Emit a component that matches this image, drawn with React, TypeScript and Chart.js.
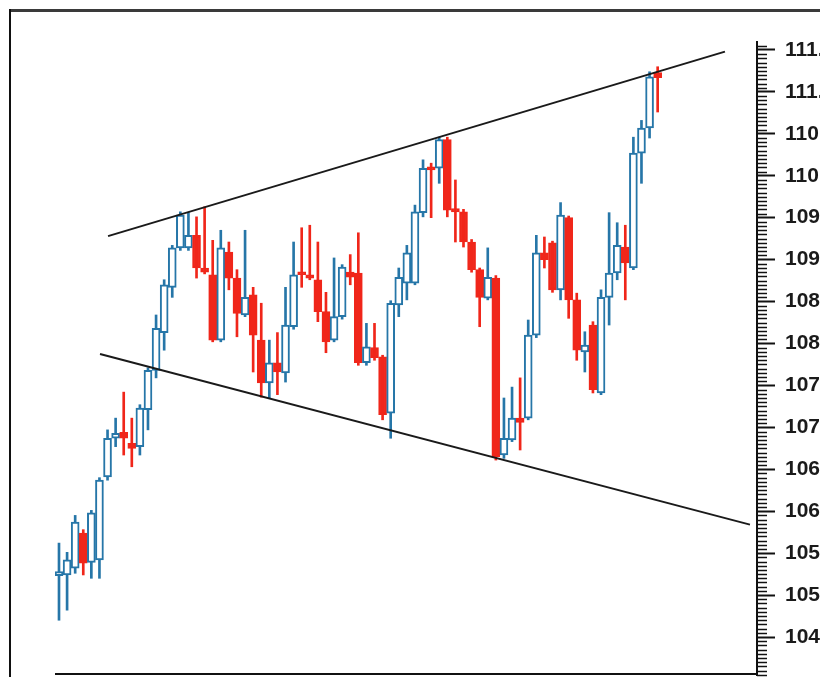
import React, { useEffect, useRef } from "react";
import { Chart, registerables } from "chart.js";

Chart.register(...registerables);

// OHLC values of each session, left to right
const opens = [
  105.23, 105.24, 105.32, 105.74, 105.39, 105.42, 106.41, 106.87, 106.94, 106.81,
  106.77, 107.21, 107.68, 108.13, 108.67, 109.14, 109.14, 109.29, 108.9, 108.82,
  108.04, 109.09, 108.78, 108.34, 108.58, 108.04, 107.53, 107.77, 107.65, 108.2,
  108.85, 108.82, 108.76, 108.38, 108.04, 108.32, 108.85, 108.84, 107.77, 107.95,
  107.84, 107.17, 108.46, 108.72, 108.72, 109.56, 110.1, 110.09, 110.43, 109.61,
  109.57, 109.21, 108.88, 108.54, 108.78, 106.67, 106.85, 107.11, 107.11, 108.1,
  109.08, 109.2, 108.64, 109.5, 108.52, 107.9, 108.22, 107.41, 108.55, 108.84,
  109.15, 108.9, 110.27, 110.57, 111.23,
];
const highs = [
  105.62, 105.51, 105.95, 105.78, 106.01, 106.4, 106.97, 107.11, 107.42, 107.11,
  107.27, 107.71, 108.34, 108.76, 109.17, 109.57, 109.56, 109.51, 109.63, 109.23,
  109.35, 109.21, 108.88, 109.35, 108.67, 108.48, 108.04, 108.13, 108.67, 109.21,
  109.38, 109.41, 109.21, 108.61, 109.02, 108.94, 109.06, 109.32, 108.24, 108.24,
  107.86, 108.51, 108.9, 109.17, 109.65, 110.19, 110.15, 110.46, 110.46, 109.95,
  109.6, 109.24, 108.9, 109.14, 108.81, 107.35, 107.48, 107.59, 108.28, 109.29,
  109.27, 109.22, 109.68, 109.52, 108.6, 108.14, 108.26, 108.64, 109.56, 109.44,
  109.41, 110.46, 110.66, 111.24, 111.3,
];
const lows = [
  104.7, 104.82, 105.26, 105.24, 105.2, 105.2, 106.37, 106.77, 106.67, 106.53,
  106.67, 106.97, 107.59, 107.92, 108.55, 109.11, 109.11, 108.78, 108.83, 108.02,
  108.02, 108.64, 108.08, 108.32, 107.66, 107.36, 107.35, 107.39, 107.54, 108.17,
  108.67, 108.76, 108.26, 107.89, 108.02, 108.29, 108.7, 107.74, 107.74, 107.8,
  107.09, 106.87, 108.32, 108.52, 108.7, 109.51, 109.5, 109.91, 109.51, 109.21,
  109.15, 108.85, 108.2, 108.52, 106.61, 106.63, 106.83, 106.73, 107.09, 108.07,
  108.9, 108.61, 108.52, 108.3, 107.8, 107.66, 107.41, 107.39, 108.22, 108.76,
  108.52, 108.88, 109.91, 110.45, 110.76,
];
const closes = [
  105.28, 105.42, 105.87, 105.38, 105.98, 106.37, 106.87, 106.93, 106.87, 106.75,
  107.23, 107.68, 108.18, 108.7, 109.14, 109.53, 109.29, 108.9, 108.85, 108.04,
  109.14, 108.78, 108.36, 108.55, 108.1, 107.53, 107.77, 107.66, 108.22, 108.82,
  108.82, 108.78, 108.38, 108.02, 108.32, 108.91, 108.79, 107.77, 107.96, 107.83,
  107.15, 108.48, 108.79, 109.08, 109.57, 110.09, 110.07, 110.43, 109.59, 109.57,
  109.21, 108.88, 108.55, 108.79, 106.65, 106.87, 107.11, 107.06, 108.1, 109.08,
  109.0, 108.64, 109.53, 108.52, 107.92, 107.98, 107.45, 108.55, 108.84, 109.17,
  108.96, 110.27, 110.57, 111.18, 111.17,
];

// trendlines (x = session index)
const upperTrend = [
  { x: 6.06, y: 109.28 },
  { x: 82.32, y: 111.48 },
];
const lowerTrend = [
  { x: 5.07, y: 107.875 },
  { x: 85.41, y: 105.84 },
];

// price axis
const yTickValues = [
  104.5, 105.0, 105.5, 106.0, 106.5, 107.0, 107.5, 108.0, 108.5, 109.0, 109.5, 110.0,
  110.5, 111.0, 111.5,
];
const Y_MIN = 104.047;
const Y_MAX = 111.595;
const X_MIN = -0.494;
const X_MAX = 86.28;

const BLUE = "#2676a8";
const RED = "#f0261a";

export default function App() {
  const ref = useRef<HTMLCanvasElement>(null);

  useEffect(() => {
    const canvas = ref.current;
    if (!canvas) return;
    const up = closes.map((c, i) => c >= opens[i]);
    const bodies = opens.map((o, i) => ({ x: i, y: [o, closes[i]] }));
    const wicks = lows.map((l, i) => ({ x: i, y: [l, highs[i]] }));

    const framePlugin = {
      id: "frame",
      afterDraw(chart: any) {
        const { ctx, chartArea } = chart;
        const ys = chart.scales.y;
        ctx.save();
        // bottom axis line
        ctx.strokeStyle = "#111";
        ctx.lineWidth = 2;
        ctx.beginPath();
        ctx.moveTo(chartArea.left, chartArea.bottom - 1);
        ctx.lineTo(chartArea.right, chartArea.bottom - 1);
        ctx.stroke();
        // minor ticks every 0.05
        ctx.lineWidth = 1.5;
        const k0 = Math.ceil(Y_MIN / 0.05 - 1e-6);
        const k1 = Math.floor(Y_MAX / 0.05 + 1e-6);
        for (let k = k0; k <= k1; k++) {
          if (k % 10 === 0) continue;
          const y = Math.round(ys.getPixelForValue(k * 0.05)) + 0.5;
          ctx.beginPath();
          ctx.moveTo(ys.left, y);
          ctx.lineTo(ys.left + 10, y);
          ctx.stroke();
        }
        // outer frame
        ctx.strokeStyle = "#3a3a3a";
        ctx.lineWidth = 3;
        ctx.beginPath();
        ctx.moveTo(9, 10.5);
        ctx.lineTo(820, 10.5);
        ctx.stroke();
        ctx.strokeStyle = "#111";
        ctx.lineWidth = 2;
        ctx.beginPath();
        ctx.moveTo(10, 9);
        ctx.lineTo(10, 677);
        ctx.stroke();
        ctx.restore();
      },
    };

    const chart = new Chart(canvas, {
      type: "bar",
      data: {
        datasets: [
          {
            type: "line",
            data: upperTrend,
            borderColor: "#1a1a1a",
            borderWidth: 2,
            pointRadius: 0,
            tension: 0,
          } as any,
          {
            type: "line",
            data: lowerTrend,
            borderColor: "#1a1a1a",
            borderWidth: 2,
            pointRadius: 0,
            tension: 0,
          } as any,
          {
            type: "bar",
            data: bodies,
            backgroundColor: up.map((u) => (u ? "#ffffff" : RED)),
            borderColor: up.map((u) => (u ? BLUE : RED)),
            borderWidth: 2,
            borderSkipped: false,
            barThickness: 8,
            minBarLength: 3,
            grouped: false,
          } as any,
          {
            type: "bar",
            data: wicks,
            backgroundColor: up.map((u) => (u ? BLUE : RED)),
            borderWidth: 0,
            barThickness: 2,
            grouped: false,
          } as any,
        ],
      },
      options: {
        responsive: false,
        animation: false,
        events: [],
        layout: { padding: { left: 55, top: 42, right: 0, bottom: 2 } },
        plugins: { legend: { display: false }, tooltip: { enabled: false } },
        scales: {
          x: { type: "linear", display: false, offset: false, min: X_MIN, max: X_MAX },
          y: {
            position: "right",
            min: Y_MIN,
            max: Y_MAX,
            afterBuildTicks: (s: any) => {
              s.ticks = yTickValues.map((v) => ({ value: v }));
            },
            afterFit: (s: any) => {
              s.width = 63;
              s.paddingTop = 0;
              s.paddingBottom = 0;
            },
            grid: {
              drawOnChartArea: false,
              drawTicks: true,
              tickLength: 18,
              tickWidth: 2,
              tickColor: "#111",
            },
            border: { display: true, color: "#111", width: 2 },
            ticks: {
              autoSkip: false,
              padding: 10,
              color: "#1a1a1a",
              font: { family: "Liberation Sans", size: 21, weight: "bold" },
              callback: (v: any) => Number(v).toFixed(2),
            },
          },
        },
      } as any,
      plugins: [framePlugin],
    });
    return () => chart.destroy();
  }, []);

  return (
    <div
      style={{
        position: "fixed",
        left: 0,
        top: 0,
        width: 820,
        height: 677,
        background: "#fff",
        overflow: "hidden",
      }}
    >
      <canvas ref={ref} width={820} height={677} style={{ display: "block" }} />
    </div>
  );
}
